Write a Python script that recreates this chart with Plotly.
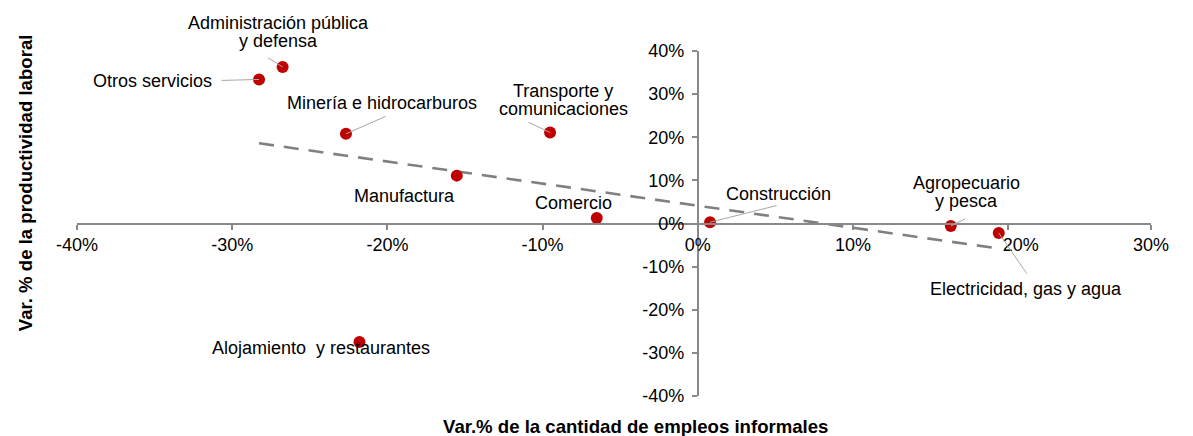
import plotly.graph_objects as go

# ---------------- data ----------------
sectors = [
    "Administración pública<br>y defensa",
    "Otros servicios",
    "Minería e hidrocarburos",
    "Transporte y<br>comunicaciones",
    "Manufactura",
    "Comercio",
    "Construcción",
    "Agropecuario<br>y pesca",
    "Electricidad, gas y agua",
    "Alojamiento  y restaurantes",
]
var_empleo_informal = [-26.75, -28.27, -22.67, -9.52, -15.53, -6.51, 0.79, 16.3, 19.39, -21.8]
var_productividad = [36.3, 33.4, 20.8, 21.1, 11.1, 1.3, 0.3, -0.6, -2.2, -27.5]

trend_y_ends = [18.6, -5.8]  # dashed trend line values at min / max of x

x_tick_vals = [-40, -30, -20, -10, 0, 10, 20, 29.2]
x_tick_text = ["-40%", "-30%", "-20%", "-10%", "0%", "10%", "\u00a0\u00a0\u00a0\u00a0\u00a020%", "30%"]
y_tick_vals = [-40, -30, -20, -10, 0, 10, 20, 30, 40]
y_tick_text = ["-40%", "-30%", "-20%", "-10%", "0%", "10%", "20%", "30%", "40%"]

x_title = "Var.% de la cantidad de empleos informales"
y_title = "Var. % de la productividad laboral"

# ---------------- style / placement ----------------
FONT = "Liberation Sans, Arial, sans-serif"
AXIS_COLOR = "#898989"
X_RANGE = [-40, 29.2]
Y_RANGE = [-40, 40]

# label offsets from each point (pixels: dx right, dy down), leader end offsets (None = no leader)
label_offsets = [(-4, -35), (-107, 2), (36, -31), (13, -33), (-52, 20), (-23, -15),
                 (68, -28), (16, -34), (27, 56), (-38, 6)]
leader_offsets = [(-16, -10), (-39, 1), (41, -18), (-23, -11), None, None,
                  (68, -17), (16, -8), (29, 42), None]
LINE_SPACING = 18

fig = go.Figure()

# trend line
tx = [min(var_empleo_informal), max(var_empleo_informal)]
fig.add_trace(go.Scatter(
    x=tx, y=trend_y_ends, mode="lines",
    line=dict(color="#808080", width=2.6, dash="15px,10px"),
    hoverinfo="skip", showlegend=False,
))

# points
fig.add_trace(go.Scatter(
    x=var_empleo_informal, y=var_productividad, mode="markers",
    marker=dict(color="#C00000", size=12, line=dict(width=0)),
    text=sectors, hoverinfo="text", showlegend=False,
))

annotations = []
for name, xv, yv, (dx, dy), lead in zip(sectors, var_empleo_informal, var_productividad,
                                         label_offsets, leader_offsets):
    if lead is not None:
        annotations.append(dict(
            x=xv, y=yv, xref="x", yref="y", text="", showarrow=True,
            ax=lead[0], ay=lead[1], arrowhead=0, arrowwidth=1,
            arrowcolor="#A6A6A6", standoff=0,
        ))
    lines = name.split("<br>")
    n = len(lines)
    for i, ln in enumerate(lines):
        off = (i - (n - 1) / 2) * LINE_SPACING
        annotations.append(dict(
            x=xv, y=yv, xref="x", yref="y", text=ln, showarrow=False,
            xanchor="center", yanchor="middle",
            xshift=dx, yshift=-(dy + off),
            font=dict(family=FONT, size=18, color="#000000"),
        ))

# axis titles
annotations.append(dict(
    x=0.52, y=0, xref="paper", yref="paper", text="<b>" + x_title + "</b>",
    showarrow=False, xanchor="center", yanchor="middle", yshift=-30,
    font=dict(family=FONT, size=18.6, color="#000000"),
))
annotations.append(dict(
    x=0, y=0.617, xref="paper", yref="paper", text="<b>" + y_title + "</b>",
    showarrow=False, xanchor="center", yanchor="middle", xshift=-52, textangle=-90,
    font=dict(family=FONT, size=18.6, color="#000000"),
))

x_cross = (0 - X_RANGE[0]) / (X_RANGE[1] - X_RANGE[0])
y_cross = (0 - Y_RANGE[0]) / (Y_RANGE[1] - Y_RANGE[0])

# the page body has an 8px margin, so the figure's own margins are reduced by 8px
fig.update_layout(
    width=1193, height=436,
    margin=dict(l=69, r=50, t=43, b=48),
    paper_bgcolor="white", plot_bgcolor="white",
    font=dict(family=FONT, size=18, color="#000000"),
    xaxis=dict(
        range=X_RANGE, anchor="free", position=y_cross,
        showgrid=False, zeroline=False,
        showline=True, linecolor=AXIS_COLOR, linewidth=2,
        ticks="outside", ticklen=5, tickwidth=2, tickcolor=AXIS_COLOR,
        tickvals=x_tick_vals, ticktext=x_tick_text,
        tickfont=dict(family=FONT, size=18, color="#000000"),
    ),
    yaxis=dict(
        range=Y_RANGE, anchor="free", position=x_cross,
        showgrid=False, zeroline=False,
        showline=True, linecolor=AXIS_COLOR, linewidth=2,
        ticks="outside", ticklen=5, tickwidth=2, tickcolor=AXIS_COLOR,
        ticklabelstandoff=4,
        tickvals=y_tick_vals, ticktext=y_tick_text,
        tickfont=dict(family=FONT, size=18, color="#000000"),
    ),
    annotations=annotations,
    showlegend=False,
)

fig.write_html("out.html")
